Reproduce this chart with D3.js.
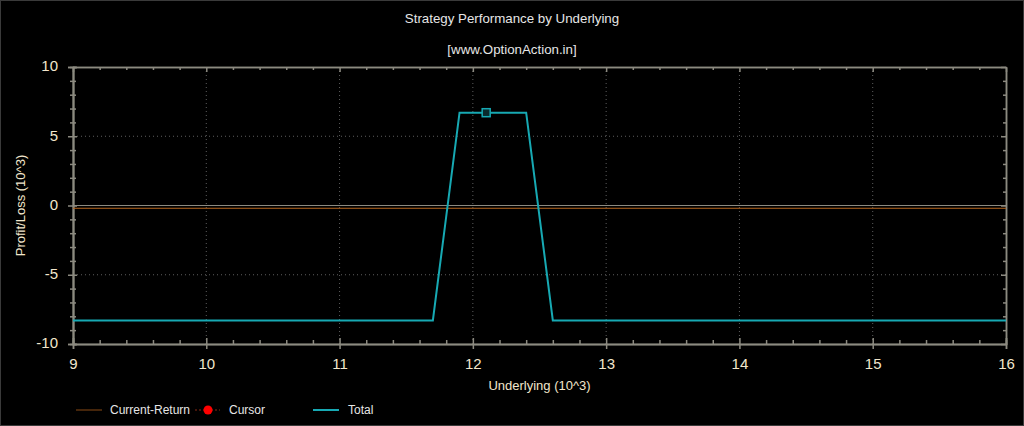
<html>
  <head>
    <meta charset="utf-8">
    <title>Strategy Performance by Underlying</title>
    <style>
      body { margin: 0; background: #000; }
      svg { display: block; font-family: "Liberation Sans", Arial, sans-serif; }
      .axis path, .axis line { stroke: #8c8a80; }
      .axis text { fill: #f2e6cc; font-size: 15px; }
    </style>
    <script src="https://d3js.org/d3.v7.min.js"></script>
  </head>
  <body>
    <svg id="chart"></svg>
    <script>
      // Data (underlying in thousands, P/L in thousands)
      let underlying = [9, 11.7, 11.9, 12.4, 12.6, 16];
      let totalPL = [-8.3, -8.3, 6.7, 6.7, -8.3, -8.3];
      let currentReturn = [-0.2, -0.2];
      let currentUnderlying = [9, 16];
      let cursorPoint = [12.1, 6.7];
      let xTicks = [9, 10, 11, 12, 13, 14, 15, 16];
      let yTicks = [-10, -5, 0, 5, 10];
      let legendItems = ['Current-Return', 'Cursor', 'Total'];

      let width = 1024, height = 426;
      let margin = { left: 73, right: 18, top: 67, bottom: 82 };
      let plotWidth = width - margin.left - margin.right;
      let plotHeight = height - margin.top - margin.bottom;

      // plain hyphen for negatives, like the original
      let fmt = d => String(d);

      let svg = d3.select('#chart').attr('width', width).attr('height', height);

      // outer frame
      svg.append('rect')
        .attr('x', 0.5).attr('y', 0.5)
        .attr('width', width - 1).attr('height', height - 1)
        .attr('fill', '#000').attr('stroke', '#3a3a3a');

      svg.append('text')
        .attr('x', width / 2).attr('y', 23)
        .attr('text-anchor', 'middle').attr('fill', '#e6e6e6')
        .style('font-size', '13.3px')
        .text('Strategy Performance by Underlying');
      svg.append('text')
        .attr('x', width / 2).attr('y', 54)
        .attr('text-anchor', 'middle').attr('fill', '#e6e6e6')
        .style('font-size', '13.3px')
        .text('[www.OptionAction.in]');

      let plot = svg.append('g')
        .attr('transform', `translate(${margin.left},${margin.top})`);

      let xScale = d3.scaleLinear().domain([9, 16]).range([0, plotWidth]);
      let yScale = d3.scaleLinear().domain([-10, 10]).range([plotHeight, 0]);

      let minorX = d3.range(9, 16.001, 0.2).filter(v => Math.abs(v - Math.round(v)) > 1e-6);
      let minorY = d3.range(-10, 10.001, 1).filter(v => v % 5 !== 0);

      // dotted grid at major ticks
      plot.append('g').selectAll('line')
        .data(xTicks.slice(1, -1)).join('line')
        .attr('x1', d => xScale(d)).attr('x2', d => xScale(d))
        .attr('y1', 0).attr('y2', plotHeight)
        .attr('stroke', '#5e5e5e').attr('stroke-dasharray', '1,3');
      plot.append('g').selectAll('line')
        .data(yTicks.filter(d => d !== 0 && Math.abs(d) !== 10)).join('line')
        .attr('y1', d => yScale(d)).attr('y2', d => yScale(d))
        .attr('x1', 0).attr('x2', plotWidth)
        .attr('stroke', '#5e5e5e').attr('stroke-dasharray', '1,3');
      // zero line
      plot.append('line')
        .attr('x1', 0).attr('x2', plotWidth)
        .attr('y1', yScale(0)).attr('y2', yScale(0))
        .attr('stroke', '#8c8a80');

      function axisLayer(axis, transform) {
        let g = plot.append('g').attr('class', 'axis').attr('transform', transform).call(axis);
        g.select('.domain').attr('stroke', '#8c8a80').attr('stroke-width', 1.5);
        return g;
      }

      // bottom axis: labels + outward major ticks, inward major & minor ticks
      let bottom = axisLayer(d3.axisBottom(xScale).tickValues(xTicks).tickSize(5).tickPadding(7).tickFormat(fmt),
        `translate(0,${plotHeight})`);
      bottom.selectAll('text').attr('dy', '0.85em');
      axisLayer(d3.axisBottom(xScale).tickValues(xTicks).tickSize(-6).tickFormat(''), `translate(0,${plotHeight})`);
      axisLayer(d3.axisBottom(xScale).tickValues(minorX).tickSize(-4).tickFormat(''), `translate(0,${plotHeight})`);

      // top axis: inward ticks
      axisLayer(d3.axisTop(xScale).tickValues(xTicks).tickSize(-5).tickSizeOuter(0).tickFormat(''), 'translate(0,0)');
      axisLayer(d3.axisTop(xScale).tickValues(minorX).tickSize(-3).tickSizeOuter(0).tickFormat(''), 'translate(0,0)');

      // left axis: labels, ticks crossing the line
      let left = axisLayer(d3.axisLeft(yScale).tickValues(yTicks).tickSize(5).tickPadding(10).tickFormat(fmt), 'translate(0,0)');
      left.selectAll('text').attr('dy', '0.25em');
      axisLayer(d3.axisLeft(yScale).tickValues(yTicks).tickSize(-4).tickFormat(''), 'translate(0,0)');
      axisLayer(d3.axisLeft(yScale).tickValues(minorY).tickSize(3).tickFormat(''), 'translate(0,0)');
      axisLayer(d3.axisLeft(yScale).tickValues(minorY).tickSize(-3).tickFormat(''), 'translate(0,0)');

      // right axis: inward ticks
      axisLayer(d3.axisRight(yScale).tickValues(yTicks).tickSize(-5).tickSizeOuter(0).tickFormat(''), `translate(${plotWidth},0)`);
      axisLayer(d3.axisRight(yScale).tickValues(minorY).tickSize(-3).tickSizeOuter(0).tickFormat(''), `translate(${plotWidth},0)`);

      plot.selectAll('.axis .tick line').attr('stroke-width', 1.5);

      // axis titles
      plot.append('text')
        .attr('x', plotWidth / 2).attr('y', plotHeight + 46)
        .attr('text-anchor', 'middle').attr('fill', '#f2e6cc')
        .style('font-size', '13px')
        .text('Underlying (10^3)');
      svg.append('text')
        .attr('transform', `translate(25,${margin.top + plotHeight / 2}) rotate(-90)`)
        .attr('text-anchor', 'middle').attr('fill', '#f2e6cc')
        .style('font-size', '13px')
        .text('Profit/Loss (10^3)');

      // current return line
      let curData = currentUnderlying.map((u, i) => [u, currentReturn[i]]);
      plot.append('path')
        .datum(curData)
        .attr('fill', 'none').attr('stroke', '#b5651d').attr('stroke-width', 1)
        .attr('d', d3.line().x(d => xScale(d[0])).y(d => yScale(d[1])));

      // total
      let totalData = underlying.map((u, i) => [u, totalPL[i]]);
      plot.append('path')
        .datum(totalData)
        .attr('fill', 'none').attr('stroke', '#17a9b3').attr('stroke-width', 2)
        .attr('stroke-linejoin', 'miter')
        .attr('d', d3.line().x(d => xScale(d[0])).y(d => yScale(d[1])));

      // cursor marker
      plot.append('rect')
        .attr('x', xScale(cursorPoint[0]) - 4).attr('y', yScale(cursorPoint[1]) - 4)
        .attr('width', 8).attr('height', 8)
        .attr('fill', '#0a2a2c').attr('stroke', '#17a9b3').attr('stroke-width', 1.5);

      // legend
      let legendY = 410;
      let legend = svg.append('g').style('font-size', '12px');
      // Current-Return
      legend.append('line').attr('x1', 76).attr('x2', 102).attr('y1', legendY).attr('y2', legendY)
        .attr('stroke', '#8a4a14').attr('stroke-width', 1);
      legend.append('text').attr('x', 110).attr('y', legendY + 4).attr('fill', '#e6e6e6').text(legendItems[0]);
      // Cursor
      legend.append('line').attr('x1', 195).attr('x2', 220).attr('y1', legendY).attr('y2', legendY)
        .attr('stroke', '#8a2a14').attr('stroke-dasharray', '2,2');
      legend.append('circle').attr('cx', 208).attr('cy', legendY).attr('r', 4.5).attr('fill', '#ff0000');
      legend.append('text').attr('x', 229).attr('y', legendY + 4).attr('fill', '#e6e6e6').text(legendItems[1]);
      // Total
      legend.append('line').attr('x1', 313).attr('x2', 339).attr('y1', legendY).attr('y2', legendY)
        .attr('stroke', '#17a9b3').attr('stroke-width', 2);
      legend.append('text').attr('x', 348).attr('y', legendY + 4).attr('fill', '#e6e6e6').text(legendItems[2]);
    </script>
  </body>
</html>
